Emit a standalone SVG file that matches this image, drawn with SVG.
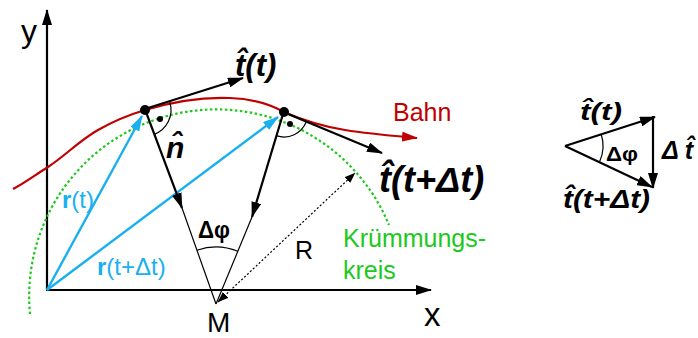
<svg xmlns="http://www.w3.org/2000/svg" width="698" height="338" viewBox="0 0 698 338">
<defs>
<style>
text{font-family:"Liberation Sans",Arial,sans-serif;}
.bi{font-weight:bold;font-style:italic;fill:#000;}
.lbl{fill:#000;}
.cy{fill:#1AB0EF;}
.blk{stroke:#000;fill:none;stroke-width:2.2;}
.thin{stroke:#000;fill:none;stroke-width:1.2;}
.cyl{stroke:#1AB0EF;fill:none;stroke-width:2.4;}
.red{stroke:#C00000;fill:none;stroke-width:2.2;}
.grn{stroke:#1DC81D;fill:none;stroke-width:2.2;stroke-dasharray:2.5 2.5;}
</style>
<marker id="ah" markerUnits="userSpaceOnUse" markerWidth="16" markerHeight="10" refX="15" refY="5" orient="auto"><path d="M0,0 L16,5 L0,10 Z" fill="#000"/></marker>
<marker id="ahc" markerUnits="userSpaceOnUse" markerWidth="16" markerHeight="10" refX="15" refY="5" orient="auto"><path d="M0,0 L16,5 L0,10 Z" fill="#1AB0EF"/></marker>
<marker id="ahr" markerUnits="userSpaceOnUse" markerWidth="16" markerHeight="10" refX="15" refY="5" orient="auto"><path d="M0,0 L16,5 L0,10 Z" fill="#C00000"/></marker>
<marker id="ahs" markerUnits="userSpaceOnUse" markerWidth="11" markerHeight="8" refX="10.5" refY="4" orient="auto-start-reverse"><path d="M0,0 L11,4 L0,8 Z" fill="#000"/></marker>
</defs>
<rect width="698" height="338" fill="#fff"/>

<g id="axes">
<line x1="47" y1="291" x2="47" y2="10" class="blk" stroke-width="2.6" marker-end="url(#ah)"/>
<line x1="46" y1="290" x2="431" y2="290" class="blk" stroke-width="2.6" marker-end="url(#ah)"/>
<text x="21" y="42" font-size="32" class="lbl">y</text>
<text x="424" y="326" font-size="33" class="lbl">x</text>
</g>

<g id="kruemmungskreis">
<path d="M30,314 A187 187 0 0 1 389,225" class="grn"/>
<text x="343" y="247" font-size="25" fill="#1DC81D">Krümmungs-</text>
<text x="343" y="279" font-size="25" fill="#1DC81D">kreis</text>
</g>

<g id="bahn">
<path d="M13,189 C25,183 35,175 48,167 C65,156 80,140 98,130 C112,122 125,116 145,110 C175,101 205,97 230,98 C255,99 270,104 284,112 C300,119 320,126 345,130 C370,134 395,136 417,138" class="red" marker-end="url(#ahr)"/>
<text x="393" y="121" font-size="25" fill="#C00000">Bahn</text>
</g>

<g id="connectors">
<line x1="47" y1="290" x2="142" y2="116" class="cyl" marker-end="url(#ahc)"/>
<line x1="47" y1="290" x2="278" y2="117" class="cyl" marker-end="url(#ahc)"/>
<line x1="148" y1="108" x2="243" y2="78" class="blk" marker-end="url(#ah)"/>
<line x1="288" y1="114" x2="382" y2="153" class="blk" marker-end="url(#ah)"/>
<line x1="146" y1="112" x2="182" y2="208" class="blk" marker-end="url(#ah)"/>
<line x1="182" y1="208" x2="216" y2="304" class="thin"/>
<line x1="283" y1="114" x2="252" y2="217" class="blk" marker-end="url(#ah)"/>
<line x1="252" y1="217" x2="216" y2="304" class="thin"/>
<line x1="218" y1="302" x2="355" y2="173" class="thin" stroke-dasharray="2 2" marker-start="url(#ahs)" marker-end="url(#ahs)"/>
<path d="M197,250.2 A57 57 0 0 1 237.8,251.3" class="thin"/>
<path d="M169.7,101.9 A26 26 0 0 1 154.1,134.4" class="thin"/>
<path d="M306.2,122.1 A24 24 0 0 1 276.9,135.9" class="thin"/>
</g>

<g id="points">
<circle cx="145" cy="110" r="5"/>
<circle cx="284" cy="112" r="5"/>
<circle cx="160" cy="119" r="3"/>
<circle cx="290" cy="124" r="3"/>
</g>

<g id="labels">
<text x="235" y="76" font-size="31" class="bi">t̂(t)</text>
<text x="379" y="192" font-size="36" class="bi">t̂(t+Δt)</text>
<text x="166" y="158" font-size="30" class="bi">n̂</text>
<text x="198" y="238" font-size="23" font-weight="bold" class="lbl" textLength="32" lengthAdjust="spacingAndGlyphs">Δφ</text>
<text x="295" y="259" font-size="25" class="lbl">R</text>
<text x="207" y="332" font-size="28" class="lbl">M</text>
<text x="62" y="208" font-size="24" class="cy"><tspan font-weight="bold">r</tspan>(t)</text>
<text x="97" y="275" font-size="24" class="cy"><tspan font-weight="bold">r</tspan>(t+Δt)</text>
</g>

<g id="triangle">
<line x1="565" y1="146" x2="655" y2="117" class="blk" marker-end="url(#ah)"/>
<line x1="565" y1="146" x2="652" y2="187" class="blk" marker-end="url(#ah)"/>
<line x1="653" y1="116" x2="653" y2="188" class="blk" marker-end="url(#ah)"/>
<path d="M601.2,134.3 A38 38 0 0 1 599.4,162.2" class="thin"/>
<text x="580" y="120" font-size="24" class="bi" textLength="42" lengthAdjust="spacingAndGlyphs">t̂(t)</text>
<text x="563" y="208" font-size="26" class="bi" textLength="87" lengthAdjust="spacingAndGlyphs">t̂(t+Δt)</text>
<text x="606" y="161" font-size="21" font-weight="bold" class="lbl" textLength="32" lengthAdjust="spacingAndGlyphs">Δφ</text>
<text x="662" y="159" font-size="25" class="bi">Δ t̂</text>
</g>
</svg>
